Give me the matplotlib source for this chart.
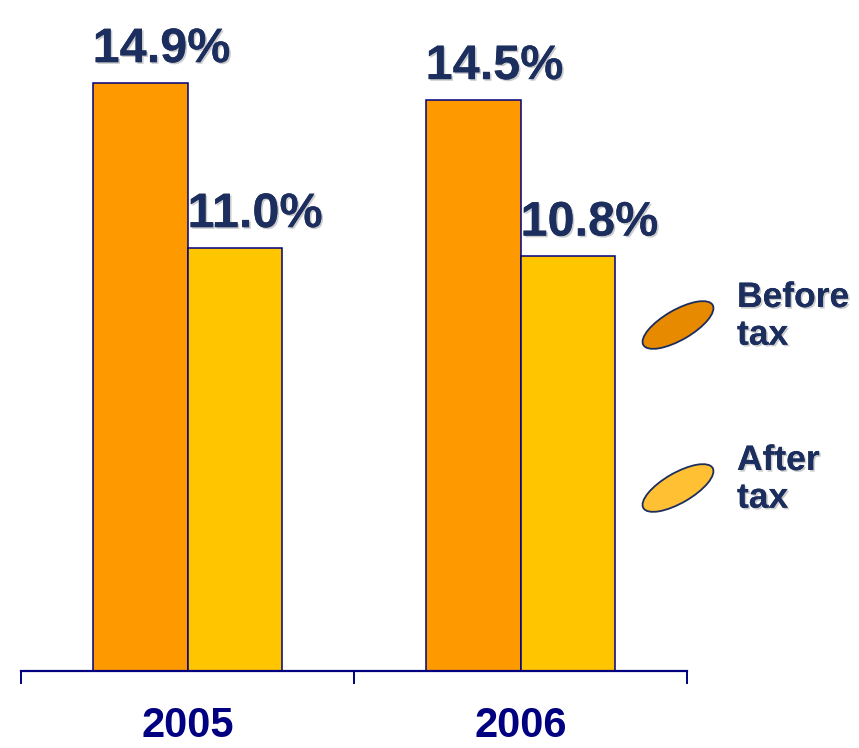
import matplotlib
matplotlib.use("Agg")
import matplotlib.pyplot as plt
import matplotlib.patheffects as pe
import matplotlib.transforms as mtransforms
from matplotlib.patches import Ellipse
import numpy as np

years = ["2005", "2006"]
before_tax = [14.9, 14.5]
after_tax = [11.0, 10.8]
series_names = ["Before\ntax", "After\ntax"]

ORANGE = "#FF9900"
YELLOW = "#FFC600"
NAVY = "#000080"
TXT = "#1C2E5E"

fig = plt.figure(figsize=(8.59, 7.48), dpi=100)
ax = fig.add_axes([21 / 859, 77 / 748, 666 / 859, 671 / 748])

x = np.arange(len(years))
w = 0.285
b1 = ax.bar(x - w / 2, before_tax, w, bottom=0, color=ORANGE, edgecolor=NAVY, linewidth=1.1, zorder=2)
b2 = ax.bar(x + w / 2, after_tax, w, bottom=0, color=YELLOW, edgecolor=NAVY, linewidth=1.1, zorder=2)

ax.set_xlim(-0.5, 1.5)
ax.set_ylim(1, 1 + 671 / 42.3)

for sp in ["top", "right", "left"]:
    ax.spines[sp].set_visible(False)
ax.spines["bottom"].set_color(NAVY)
ax.spines["bottom"].set_linewidth(1.6)
ax.set_yticks([])
ax.set_xticks([-0.5, 0.5, 1.5])
ax.set_xticklabels([])
ax.tick_params(axis="x", direction="out", length=9.5, width=1.4, color=NAVY)

shadow = [pe.withSimplePatchShadow(offset=(1.2, -1.2), shadow_rgbFace="#999999", alpha=0.5), pe.Normal()]

# value labels above bars
for bars, vals in [(b1, before_tax), (b2, after_tax)]:
    for rect, v in zip(bars, vals):
        ax.annotate(f"{v:.1f}%", xy=(rect.get_x(), v), xytext=(0, 15),
                    textcoords="offset points", ha="left", va="baseline",
                    fontsize=35, fontweight="bold", color=TXT,
                    family=["Liberation Sans", "DejaVu Sans"],
                    path_effects=shadow, annotation_clip=False)

# year labels below the axis
yr_trans = mtransforms.blended_transform_factory(ax.transData, fig.transFigure)
for xi, yr in zip(x, years):
    ax.text(xi, 2 / 748, yr, transform=yr_trans, clip_on=False,
            ha="center", va="bottom", fontsize=30, fontweight="bold", color=NAVY,
            family=["Liberation Sans", "DejaVu Sans"])

# legend drawn in pixel space
lg = fig.add_axes([0, 0, 1, 1])
lg.set_xlim(0, 859)
lg.set_ylim(748, 0)
lg.axis("off")
lg.patch.set_alpha(0)
leg_colors = ["#E88A00", "#FFC133"]
leg_y = [325, 488]
for c, yy, name in zip(leg_colors, leg_y, series_names):
    lg.add_patch(Ellipse((678, yy), 80, 30, angle=-30, facecolor=c, edgecolor=TXT, linewidth=1.3))
    lg.text(737, yy - 44, name, ha="left", va="top", fontsize=25.5, fontweight="bold",
            color=TXT, linespacing=1.18, family=["Liberation Sans", "DejaVu Sans"],
            path_effects=shadow)

fig.savefig("out.png", dpi=100)
